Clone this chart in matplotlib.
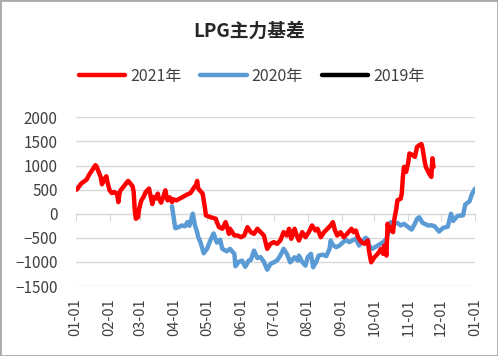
import numpy as np
import pandas as pd
import matplotlib
matplotlib.use('Agg')
import matplotlib.pyplot as plt
from matplotlib.patches import Rectangle

plt.rcParams['font.family'] = ['Noto Sans CJK SC', 'DejaVu Sans']

# day offset from 01-01, basis value
days_2021 = [1, 5, 10, 12, 15, 18, 19, 21, 23, 24, 26, 28, 29, 31, 33, 35, 37, 38, 39, 40,
             41, 44, 47, 48, 50, 52, 53, 54, 55, 57, 58, 60, 62, 64, 67, 68, 70, 71, 73, 75,
             76, 78, 80, 82, 83, 84, 86, 88, 89, 92, 95, 98, 102, 105, 108, 110, 111, 112, 116, 118,
             119, 123, 128, 129, 131, 134, 137, 138, 140, 141, 145, 148, 151, 154, 157, 160, 163, 166, 169, 172,
             175, 178, 181, 184, 187, 190, 193, 195, 197, 200, 202, 204, 207, 210, 213, 216, 219, 221, 224, 227,
             230, 233, 235, 237, 239, 242, 245, 248, 252, 254, 256, 258, 261, 264, 267, 268, 270, 273, 276, 279,
             281, 282, 284, 285, 287, 288, 290, 291, 293, 294, 297, 298, 299, 300, 302, 304, 305, 308, 310, 312,
             314, 316, 317, 319, 320, 323, 325, 326, 327]
basis_2021 = [500, 625, 708, 798, 902, 1006, 985, 867, 750, 610, 708, 777, 658, 485, 429, 450, 429, 381, 242, 417,
              485, 569, 658, 680, 625, 569, 450, 69, -104, -71, 104, 277, 346, 450, 521, 417, 200, 346, 313, 417,
              313, 230, 346, 485, 346, 277, 340, 242, 300, 277, 313, 350, 400, 429, 540, 600, 680, 521, 417, 139,
              -35, -71, -104, -175, -279, -312, -175, -244, -417, -312, -452, -452, -487, -452, -279, -383, -417, -312, -383, -452,
              -729, -625, -590, -625, -556, -383, -452, -312, -521, -312, -452, -556, -383, -487, -383, -244, -348, -312, -487, -383,
              -312, -244, -175, -348, -452, -383, -487, -417, -312, -383, -348, -487, -590, -625, -556, -765, -1008, -904, -833, -729,
              -833, -660, -869, -208, -348, -279, -383, -140, 100, 277, 313, 417, 763, 971, 867, 1075, 1250, 1215, 1180, 1388,
              1423, 1444, 1354, 1075, 971, 833, 763, 1150, 971]

days_2020 = [88, 91, 94, 97, 100, 102, 104, 107, 109, 111, 112, 114, 117, 120, 123, 126, 129, 132, 134, 138,
             141, 145, 146, 149, 152, 155, 158, 160, 163, 166, 169, 172, 175, 178, 181, 184, 187, 190, 193, 196,
             200, 203, 204, 207, 210, 212, 215, 217, 220, 222, 226, 229, 232, 233, 235, 238, 241, 244, 247, 250,
             254, 256, 259, 262, 265, 267, 268, 271, 276, 281, 284, 286, 288, 290, 291, 294, 297, 300, 304, 307,
             310, 312, 314, 317, 322, 325, 328, 332, 336, 340, 343, 345, 349, 354, 356, 360, 362, 365]
basis_2020 = [152, -300, -279, -244, -260, -175, -250, 0, -244, -383, -487, -590, -820, -729, -556, -410, -600, -540, -729, -780,
              -729, -833, -1090, -1000, -973, -1100, -973, -960, -765, -920, -900, -1000, -1160, -1042, -1008, -970, -870, -729, -833, -1008,
              -904, -973, -869, -1000, -1077, -900, -833, -1112, -990, -869, -850, -880, -729, -556, -650, -694, -660, -600, -540, -590,
              -540, -520, -660, -570, -500, -540, -660, -729, -660, -590, -521, -380, -175, -312, -208, -190, -244, -210, -279, -330,
              -208, -104, -75, -190, -244, -240, -260, -370, -290, -270, 0, -150, -45, -35, 190, 260, 400, 521]

days_2019 = []
basis_2019 = []

month_starts = pd.date_range('2021-01-01', '2022-01-01', freq='MS')
tick_pos = np.asarray((month_starts - month_starts[0]).days)
tick_labels = list(month_starts.strftime('%m-%d'))

ymin, ymax = -1500, 2000

fig = plt.figure(figsize=(4.98, 3.56), dpi=100)
ax = fig.add_axes([0.152, 0.1966, 0.802, 0.4739])

kw = dict(lw=3.2, solid_capstyle='round', solid_joinstyle='round')
ax.plot(days_2021, basis_2021, color='#ff0000', label='2021年', zorder=3, **kw)
ax.plot(days_2020, basis_2020, color='#5b9bd5', label='2020年', zorder=2, **kw)
ax.plot(days_2019, basis_2019, color='#000000', label='2019年', zorder=1, **kw)

ax.set_xlim(0, 365)
ax.set_ylim(ymin, ymax)
ax.set_yticks(np.arange(ymin, ymax + 1, 500))
ax.grid(axis='y', color='#d9d9d9', lw=1)
ax.set_axisbelow(True)
for s in ax.spines.values():
    s.set_visible(False)
ax.set_xticks(tick_pos, tick_labels, rotation=90)
ax.tick_params(axis='x', length=0, pad=9, labelsize=10.5, labelcolor='#404040')
ax.tick_params(axis='y', length=0, pad=13, labelsize=11, labelcolor='#404040')

# category axis crossing at zero
zero = ax.secondary_xaxis((0 - ymin) / (ymax - ymin))
zero.set_xticks(tick_pos)
zero.tick_params(direction='out', length=5, color='#d9d9d9', labelbottom=False, labeltop=False)
for s in zero.spines.values():
    s.set_color('#d9d9d9')

fig.text(0.5, 1 - 31 / 356, 'LPG主力基差', ha='center', va='center',
         fontsize=13.5, fontweight='bold', color='#262626')
fig.legend(loc='center', bbox_to_anchor=(0.505, 1 - 76 / 356), ncol=3, frameon=False,
           fontsize=11.5, handlelength=2.9, columnspacing=1.2, handletextpad=0.3,
           labelcolor='#404040')

fig.patches.append(Rectangle((0, 0), 1, 1, transform=fig.transFigure, fill=False,
                             edgecolor='#aaaaaa', lw=2))

fig.savefig('out.png', dpi=100)
